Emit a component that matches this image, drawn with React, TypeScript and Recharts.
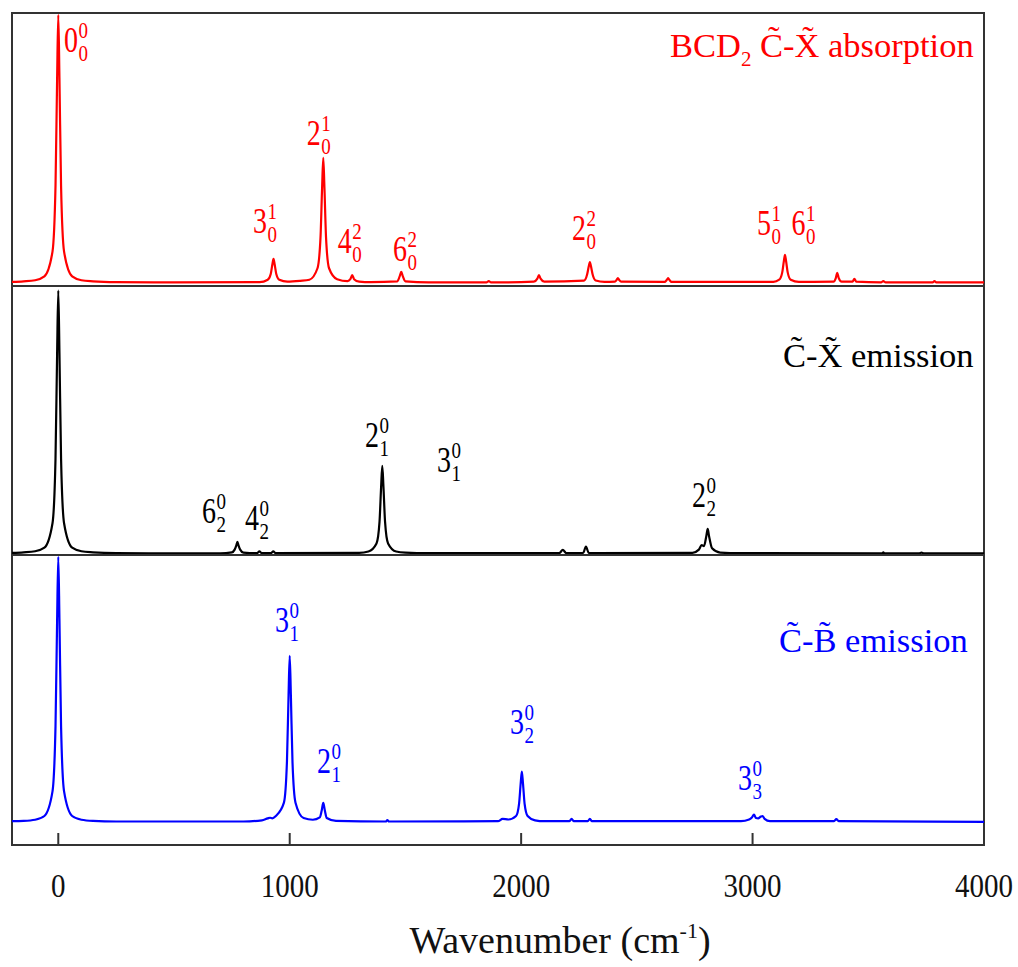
import React from 'react';
import { LineChart, Line, XAxis, YAxis, ReferenceArea, ReferenceDot } from 'recharts';

// wavenumber (cm-1) / normalised intensity
const absorptionX = [-200, -150, -100, -60, -25, -12, -5, 0, 5, 12, 25, 60, 100, 150, 250, 500, 870, 905, 918, 925, 930, 935, 942, 955, 990, 1045, 1085, 1120, 1133, 1140, 1145, 1150, 1157, 1170, 1205, 1250, 1262, 1270, 1278, 1300, 1350, 1465, 1475, 1482, 1489, 1500, 1600, 1850, 1860, 1870, 2055, 2070, 2077, 2084, 2100, 2272, 2285, 2292, 2297, 2302, 2309, 2322, 2360, 2405, 2413, 2418, 2423, 2432, 2620, 2629, 2635, 2641, 2650, 3090, 3115, 3128, 3135, 3140, 3145, 3152, 3165, 3200, 3350, 3360, 3366, 3372, 3385, 3432, 3440, 3448, 3555, 3565, 3575, 3778, 3786, 3794, 4000];
const absorptionY = [0.015, 0.017, 0.021, 0.035, 0.126, 0.366, 0.762, 0.993, 0.762, 0.366, 0.126, 0.035, 0.021, 0.017, 0.014, 0.013, 0.014, 0.023, 0.044, 0.079, 0.099, 0.079, 0.044, 0.023, 0.016, 0.019, 0.023, 0.065, 0.177, 0.361, 0.469, 0.361, 0.177, 0.065, 0.025, 0.018, 0.025, 0.040, 0.025, 0.016, 0.014, 0.017, 0.035, 0.052, 0.035, 0.017, 0.013, 0.013, 0.018, 0.013, 0.016, 0.027, 0.040, 0.027, 0.016, 0.020, 0.042, 0.071, 0.088, 0.071, 0.042, 0.020, 0.015, 0.016, 0.023, 0.029, 0.023, 0.016, 0.015, 0.022, 0.029, 0.022, 0.015, 0.015, 0.023, 0.049, 0.090, 0.114, 0.090, 0.049, 0.023, 0.015, 0.016, 0.030, 0.048, 0.030, 0.016, 0.016, 0.026, 0.016, 0.013, 0.018, 0.013, 0.013, 0.018, 0.013, 0.013];

const cxEmissionX = [-200, -150, -100, -60, -25, -12, -5, 0, 5, 12, 25, 60, 100, 150, 250, 700, 750, 762, 769, 774, 779, 786, 800, 860, 869, 878, 920, 929, 938, 1300, 1340, 1375, 1388, 1395, 1400, 1405, 1412, 1425, 1460, 1500, 1600, 2165, 2180, 2195, 2268, 2280, 2292, 2320, 2740, 2768, 2780, 2790, 2800, 2806, 2812, 2825, 2860, 2950, 3560, 3565, 3570, 3720, 3730, 3740, 4000];
const cxEmissionY = [0.008, 0.010, 0.014, 0.027, 0.118, 0.358, 0.752, 0.983, 0.752, 0.358, 0.118, 0.027, 0.014, 0.010, 0.007, 0.006, 0.010, 0.020, 0.035, 0.049, 0.035, 0.020, 0.009, 0.007, 0.014, 0.007, 0.007, 0.014, 0.007, 0.008, 0.013, 0.043, 0.123, 0.254, 0.331, 0.254, 0.123, 0.043, 0.013, 0.009, 0.007, 0.007, 0.019, 0.007, 0.008, 0.031, 0.008, 0.007, 0.008, 0.020, 0.037, 0.033, 0.070, 0.097, 0.070, 0.025, 0.009, 0.007, 0.006, 0.010, 0.006, 0.006, 0.009, 0.006, 0.006];

const cbEmissionX = [-200, -150, -100, -60, -25, -12, -5, 0, 5, 12, 25, 60, 100, 150, 250, 800, 880, 905, 915, 925, 940, 975, 988, 995, 1000, 1005, 1012, 1025, 1060, 1100, 1130, 1138, 1145, 1152, 1160, 1200, 1415, 1422, 1429, 1900, 1920, 1945, 1978, 1991, 1998, 2003, 2008, 2015, 2028, 2060, 2100, 2208, 2218, 2228, 2288, 2297, 2306, 2950, 2985, 2998, 3006, 3015, 3024, 3036, 3043, 3052, 3075, 3352, 3362, 3372, 4000];
const cbEmissionY = [0.082, 0.083, 0.087, 0.100, 0.185, 0.409, 0.778, 0.994, 0.778, 0.409, 0.185, 0.100, 0.087, 0.083, 0.081, 0.081, 0.085, 0.092, 0.094, 0.092, 0.100, 0.146, 0.286, 0.517, 0.652, 0.517, 0.286, 0.146, 0.093, 0.087, 0.095, 0.118, 0.145, 0.118, 0.093, 0.083, 0.081, 0.086, 0.081, 0.082, 0.090, 0.088, 0.100, 0.142, 0.212, 0.253, 0.212, 0.142, 0.100, 0.085, 0.082, 0.082, 0.090, 0.082, 0.082, 0.090, 0.082, 0.082, 0.088, 0.096, 0.105, 0.093, 0.092, 0.098, 0.100, 0.090, 0.082, 0.082, 0.089, 0.082, 0.080];

const xTicks = [0, 1000, 2000, 3000, 4000];

// band assignments: [anchor wavenumber, anchor intensity, mode, upper, lower]
const absorptionBands: [number, number, string, string, string][] = [
  [25, 0.857, '0', '0', '0'],
  [841, 0.194, '3', '1', '0'],
  [1074, 0.516, '2', '1', '0'],
  [1208, 0.121, '4', '2', '0'],
  [1446, 0.092, '6', '2', '0'],
  [2220, 0.168, '2', '2', '0'],
  [3019, 0.187, '5', '1', '0'],
  [3168, 0.187, '6', '1', '0'],
];
const cxBands: [number, number, string, string, string][] = [
  [1325, 0.401, '2', '0', '1'],
  [621, 0.119, '6', '0', '2'],
  [807, 0.093, '4', '0', '2'],
  [1636, 0.309, '3', '0', '1'],
  [2738, 0.178, '2', '0', '2'],
];
const cbBands: [number, number, string, string, string][] = [
  [936, 0.734, '3', '0', '1'],
  [1118, 0.248, '2', '0', '1'],
  [1952, 0.383, '3', '0', '2'],
  [2937, 0.19, '3', '0', '3'],
];

const W = 1018;
const H = 967;
const LEFT = 12;
const RIGHT = W - 984;
const FONT = 'Liberation Serif, Times New Roman, serif';
const STRETCH = 1.25;

const toRows = (xs: number[], ys: number[]) => xs.map((x, i) => ({ x, y: ys[i] }));

// mode number with stacked upper / lower quantum numbers
const ModeLabel = ({ cx, cy, mode, up, low, color }: any) => (
  <g transform={`translate(${cx},${cy}) scale(1,${STRETCH})`}>
    <text x={0} y={0} fill={color} fontFamily={FONT} fontSize={28}>
      {mode}
      <tspan dx={0.5} dy={-11} fontSize={19}>{up}</tspan>
      <tspan dx={-9.5} dy={18} fontSize={19}>{low}</tspan>
    </text>
  </g>
);

const BottomTick = ({ x, y, payload }: any) => (
  <g>
    <line x1={x} x2={x} y1={y} y2={y - 12} stroke="#333" strokeWidth={2} />
    <text
      transform={`translate(${x},${y + 52}) scale(1,1.15)`}
      x={0}
      y={0}
      textAnchor="middle"
      fontFamily={FONT}
      fontSize={29}
      fill="#111"
    >
      {payload.value}
    </text>
  </g>
);

const AxisTitle = ({ viewBox }: any) => {
  const cx = viewBox.x + viewBox.width / 2 + 62;
  return (
    <text x={cx} y={viewBox.y + 108} textAnchor="middle" fontFamily={FONT} fontSize={38} fill="#111">
      Wavenumber (cm<tspan dy={-15} fontSize={22}>-1</tspan><tspan dy={15}>)</tspan>
    </text>
  );
};

interface PanelProps {
  rows: { x: number; y: number }[];
  color: string;
  top: number;
  bottom: number;
  bands: [number, number, string, string, string][];
  title: React.ReactNode;
  titleAt: [number, number];
  showAxis?: boolean;
}

function Panel({ rows, color, top, bottom, bands, title, titleAt, showAxis }: PanelProps) {
  const axisH = 40;
  return (
    <div style={{ position: 'absolute', left: 0, top: 0 }}>
      <LineChart
        width={W}
        height={H}
        data={rows}
        margin={{ top, right: RIGHT, left: LEFT, bottom: H - bottom - (showAxis ? axisH : 0) }}
      >
        <XAxis
          type="number"
          dataKey="x"
          domain={[-200, 4000]}
          ticks={xTicks}
          hide={!showAxis}
          height={axisH}
          axisLine={false}
          tickLine={false}
          tickSize={0}
          tickMargin={0}
          tick={<BottomTick />}
          interval={0}
          label={showAxis ? { content: AxisTitle } : undefined}
        />
        <YAxis type="number" domain={[0, 1]} hide />
        <Line
          type="monotone"
          dataKey="y"
          stroke={color}
          strokeWidth={2.2}
          dot={false}
          activeDot={false}
          isAnimationActive={false}
        />
        <ReferenceArea x1={-200} x2={4000} y1={0} y2={1} fill="none" stroke="#333" strokeWidth={2} fillOpacity={0} />
        {bands.map(([bx, by, mode, up, low], i) => (
          <ReferenceDot
            key={i}
            x={bx}
            y={by}
            r={1}
            shape={(p: any) => <ModeLabel cx={p.cx} cy={p.cy} mode={mode} up={up} low={low} color={color} />}
          />
        ))}
        <ReferenceDot
          x={titleAt[0]}
          y={titleAt[1]}
          r={1}
          shape={(p: any) => (
            <text x={p.cx} y={p.cy} fill={color} fontFamily={FONT} fontSize={34.5}>
              {title}
            </text>
          )}
        />
      </LineChart>
    </div>
  );
}

export default function App() {
  return (
    <div style={{ position: 'absolute', left: 0, top: 0, width: W, height: H, background: '#fff' }}>
      <Panel
        rows={toRows(absorptionX, absorptionY)}
        color="#ff0000"
        top={13}
        bottom={286}
        bands={absorptionBands}
        titleAt={[2643, 0.839]}
        title={<>BCD<tspan dy={9} fontSize={21}>2</tspan><tspan dy={-9}> C{'\u0303'}-X{'\u0303'} absorption</tspan></>}
      />
      <Panel
        rows={toRows(cxEmissionX, cxEmissionY)}
        color="#000000"
        top={286}
        bottom={555}
        bands={cxBands}
        titleAt={[3131, 0.699]}
        title={<>C{'\u0303'}-X{'\u0303'} emission</>}
      />
      <Panel
        rows={toRows(cbEmissionX, cbEmissionY)}
        color="#0000ff"
        top={555}
        bottom={845}
        bands={cbBands}
        titleAt={[3114, 0.666]}
        title={<>C{'\u0303'}-B{'\u0303'} emission</>}
        showAxis
      />
    </div>
  );
}
